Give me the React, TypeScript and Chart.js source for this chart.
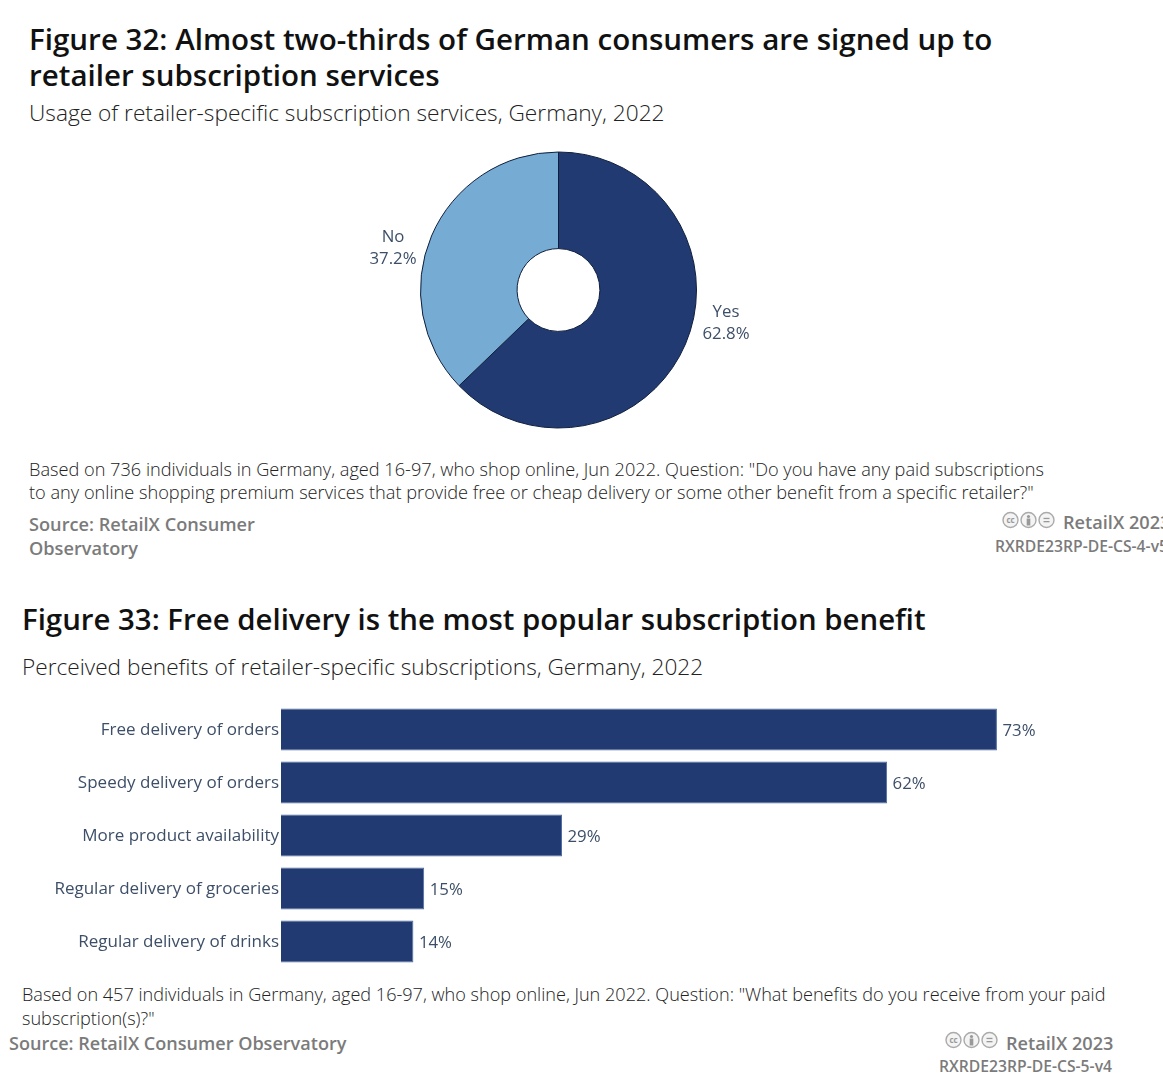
import React, { useEffect, useRef } from "react";
import { Chart, registerables } from "chart.js";

Chart.register(...registerables);

const pieLabels = ["Yes", "No"];
const pieValues = [62.8, 37.2];
const pieColors = ["#223a72", "#76acd4"];
const barLabels = [
  "Free delivery of orders",
  "Speedy delivery of orders",
  "More product availability",
  "Regular delivery of groceries",
  "Regular delivery of drinks",
];
const barValues = [73, 61.8, 28.65, 14.6, 13.5];

const FONT = "'Open Sans', sans-serif";
const LABEL = "#3d4f68";
const PIE_LABEL_OFFSETS = [
  { dx: 167.5, dy: 33 },
  { dx: -165.5, dy: -42 },
];

const pieLabelPlugin = {
  id: "pieLabelPlugin",
  afterDatasetsDraw(chart: any) {
    const { ctx } = chart;
    const meta = chart.getDatasetMeta(0);
    ctx.save();
    ctx.font = `16.8px ${FONT}`;
    ctx.fillStyle = LABEL;
    ctx.textAlign = "center";
    ctx.textBaseline = "middle";
    meta.data.forEach((arc: any, i: number) => {
      const cx = arc.x + PIE_LABEL_OFFSETS[i].dx;
      const cy = arc.y + PIE_LABEL_OFFSETS[i].dy;
      ctx.fillText(pieLabels[i], cx, cy - 11);
      ctx.fillText(`${pieValues[i].toFixed(1)}%`, cx, cy + 11);
    });
    ctx.restore();
  },
};

const barLabelPlugin = {
  id: "barLabelPlugin",
  afterDatasetsDraw(chart: any) {
    const { ctx } = chart;
    const meta = chart.getDatasetMeta(0);
    ctx.save();
    ctx.font = `16.8px ${FONT}`;
    ctx.fillStyle = LABEL;
    ctx.textAlign = "left";
    ctx.textBaseline = "middle";
    meta.data.forEach((bar: any, i: number) => {
      ctx.fillText(`${Math.round(barValues[i])}%`, bar.x + 5.5, bar.y + 2);
    });
    ctx.restore();
  },
};

const T = ({ x, y, s, w = 400, c = "#111", children }: any) => (
  <div
    style={{
      position: "absolute",
      left: x,
      top: y,
      fontFamily: FONT,
      fontSize: s,
      fontWeight: w,
      color: c,
      whiteSpace: "nowrap",
      lineHeight: 1,
    }}
  >
    {children}
  </div>
);

const CC = ({ x, y }: { x: number; y: number }) => (
  <svg style={{ position: "absolute", left: x, top: y }} width="54" height="18" viewBox="0 0 54 18">
    {[8.5, 26.5, 44.5].map((cx) => (
      <circle key={cx} cx={cx} cy="9" r="7.5" fill="#f4f4f4" stroke="#aaa" strokeWidth="1.4" />
    ))}
    <text x="8.5" y="12" fontSize="8" textAnchor="middle" fill="#999" fontFamily={FONT} fontWeight="700">cc</text>
    <circle cx="26.5" cy="5.5" r="1.6" fill="#999" />
    <rect x="24.7" y="7.5" width="3.6" height="7" fill="#999" />
    <rect x="41.5" y="6.8" width="6" height="1.3" fill="#999" />
    <rect x="41.5" y="10" width="6" height="1.3" fill="#999" />
  </svg>
);

export default function App() {
  const pieRef = useRef<HTMLCanvasElement>(null);
  const barRef = useRef<HTMLCanvasElement>(null);

  useEffect(() => {
    document.body.style.margin = "0";
    const pie = new Chart(pieRef.current!, {
      type: "doughnut",
      data: {
        labels: pieLabels,
        datasets: [
          {
            data: pieValues,
            backgroundColor: pieColors,
            borderColor: "#0f1f3d",
            borderWidth: 1,
          },
        ],
      },
      options: {
        responsive: false,
        animation: false,
        cutout: "30%",
        plugins: { legend: { display: false }, tooltip: { enabled: false } },
        layout: { padding: 1.5 },
      },
      plugins: [pieLabelPlugin],
    } as any);
    const bar = new Chart(barRef.current!, {
      type: "bar",
      data: {
        labels: barLabels,
        datasets: [
          {
            data: barValues,
            backgroundColor: "#223a72",
            borderColor: "#4d6da3",
            borderWidth: 1,
            barPercentage: 42 / 53,
            categoryPercentage: 1,
          },
        ],
      },
      options: {
        indexAxis: "y",
        responsive: false,
        animation: false,
        layout: { padding: { right: 97.4 } },
        plugins: { legend: { display: false }, tooltip: { enabled: false } },
        scales: {
          x: { display: false, min: 0, max: 80 },
          y: {
            afterFit(axis: any) {
              axis.width = 281;
              axis.paddingTop = 0;
              axis.paddingBottom = 0;
            },
            grid: { display: false, drawTicks: false },
            border: { display: false },
            ticks: {
              padding: 2,
              labelOffset: 1,
              color: LABEL,
              font: { family: "'Open Sans', sans-serif", size: 17 },
            },
          },
        },
      },
      plugins: [barLabelPlugin],
    } as any);
    return () => {
      pie.destroy();
      bar.destroy();
    };
  }, []);

  return (
    <div style={{ position: "absolute", left: 0, top: 0, width: 1163, height: 1080, overflow: "hidden", background: "#fff" }}>
      <T x={29} y={24} s={29.55} w={600}>Figure 32: Almost two-thirds of German consumers are signed up to</T>
      <T x={29} y={60} s={29.5} w={600}>retailer subscription services</T>
      <T x={29} y={102} s={22.7} w={300} c="#222">Usage of retailer-specific subscription services, Germany, 2022</T>
      <canvas ref={pieRef} width={517} height={280} style={{ position: "absolute", left: 300, top: 150 }} />
      <T x={29} y={460} s={18.18} w={300} c="#222">Based on 736 individuals in Germany, aged 16-97, who shop online, Jun 2022. Question: "Do you have any paid subscriptions</T>
      <T x={29} y={483} s={18.2} w={300} c="#222">to any online shopping premium services that provide free or cheap delivery or some other benefit from a specific retailer?"</T>
      <T x={29} y={515} s={18.18} w={600} c="#7b7b7b">Source: RetailX Consumer</T>
      <T x={29} y={539} s={18.18} w={600} c="#7b7b7b">Observatory</T>
      <CC x={1002} y={511} />
      <T x={1063} y={513} s={18.16} w={600} c="#7b7b7b">RetailX 2023</T>
      <T x={995} y={539} s={15.7} w={600} c="#7b7b7b">RXRDE23RP-DE-CS-4-v5</T>

      <T x={22} y={605} s={29.4} w={600}>Figure 33: Free delivery is the most popular subscription benefit</T>
      <T x={22} y={656} s={22.63} w={300} c="#222">Perceived benefits of retailer-specific subscriptions, Germany, 2022</T>
      <canvas ref={barRef} width={1163} height={265} style={{ position: "absolute", left: 0, top: 703 }} />
      <T x={22} y={985} s={18.1} w={300} c="#222">Based on 457 individuals in Germany, aged 16-97, who shop online, Jun 2022. Question: "What benefits do you receive from your paid</T>
      <T x={22} y={1009} s={18.1} w={300} c="#222">subscription(s)?"</T>
      <T x={9} y={1034} s={18.07} w={600} c="#7b7b7b">Source: RetailX Consumer Observatory</T>
      <CC x={945} y={1031} />
      <T x={1006} y={1034} s={18.16} w={600} c="#7b7b7b">RetailX 2023</T>
      <T x={939} y={1059} s={15.7} w={600} c="#7b7b7b">RXRDE23RP-DE-CS-5-v4</T>
    </div>
  );
}
